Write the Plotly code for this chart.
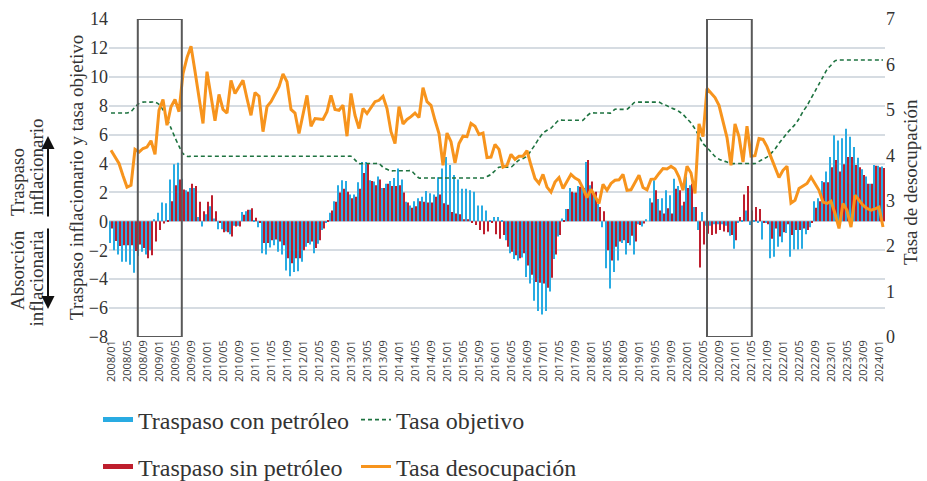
import plotly.graph_objects as go

# ---------------- data (monthly, 2008/01 - 2024/02) ----------------
n_months = 194
month_labels = [f"{2008 + i // 12}/{i % 12 + 1:02d}" for i in range(n_months)]
tick_idx = list(range(0, n_months, 4))
tick_labels = [month_labels[i] for i in tick_idx]

traspaso_con = [
    -1.5, -2.0, -2.3, -2.8, -2.8, -3.0, -3.55, -2.4, -2.1, -2.3, -2.0, 0.15,
    0.6, 1.3, 1.25, 2.9, 3.95, 4.05, 2.95, 2.15, 2.3, 2.3, 0.3, -0.35,
    0.5, 1.05, 0.2, -0.55, -0.55, -0.7, -0.9, -0.3, -0.3, 0.65, 0.7, 0.8,
    0.1, -0.4, -2.2, -2.3, -1.8, -1.65, -2.1, -2.3, -3.4, -3.8, -3.5, -3.45,
    -2.8, -1.75, -1.6, -2.2, -1.55, -0.6, -0.1, 0.6, 1.4, 2.5, 2.85, 2.8,
    1.85, 1.85, 2.7, 4.1, 4.1, 2.85, 2.75, 3.1, 2.3, 2.6, 2.8, 3.0,
    3.65, 2.9, 1.35, 1.1, 1.4, 1.6, 1.7, 2.1, 1.95, 1.85, 3.05, 3.65,
    4.45, 3.9, 3.2, 2.9, 2.25, 2.25, 2.15, 2.05, 1.1, 1.1, 0.75, 0.1,
    0.3, 0.3, 0.1, -1.3, -2.2, -2.6, -2.7, -2.5, -3.85, -4.3, -5.5, -6.2,
    -6.45, -6.2, -4.85, -2.6, -1.05, 0.2, 0.85, 2.3, 2.0, 2.45, 2.3, 4.1,
    2.5, 1.8, 1.2, -0.4, -3.25, -4.65, -3.5, -2.7, -1.5, -2.3, -1.65, -2.3,
    -0.2, -0.35, 0.15, 1.6, 2.85, 1.55, 1.6, 2.15, 1.8, 2.95, 2.45, 1.1,
    3.1, 2.5, 1.0, -0.6, 0.65, -0.3, -0.3, -0.2, -0.2, -0.2, -0.3, -1.0,
    -1.9, -0.1, 0.1, 0.75, -0.25, 0.1, -0.1, -1.25, -0.1, -2.55, -2.45, -1.75,
    -1.45, -0.8, -2.45, -1.95, -1.95, -1.9, -0.9, -0.4, 1.4, 1.6, 2.8, 3.45,
    4.45, 5.95, 5.6, 5.75, 6.4, 5.85, 5.15, 4.4, 3.6, 3.1, 2.6, 3.9,
    3.85, 3.8,
]

traspaso_sin = [
    -0.5, -1.35, -1.7, -1.65, -1.65, -1.65, -2.05, -1.6, -1.85, -2.55, -2.35, -1.4,
    -0.6, -0.15, 0.05, 1.4, 2.5, 2.9, 2.2, 2.05, 2.6, 2.45, 1.35, 0.7,
    1.35, 1.8, 0.7, -0.1, -0.75, -0.75, -1.05, -0.35, -0.35, 0.45, 0.8, 0.9,
    0.25, -0.1, -1.5, -1.5, -1.3, -1.25, -1.4, -1.65, -2.55, -2.9, -2.55, -2.55,
    -2.0, -1.5, -1.4, -1.85, -1.3, -0.5, 0.05, 0.75, 1.35, 2.0, 2.25, 2.05,
    1.6, 1.7, 2.25, 3.35, 4.0, 2.8, 2.5, 2.9, 2.3, 2.6, 2.45, 2.45,
    2.5, 2.0, 1.3, 0.95, 1.05, 1.4, 1.35, 1.3, 1.3, 1.7, 1.85, 1.25,
    1.15, 0.65, 0.55, 0.5, 0.15, 0.15, -0.1, -0.25, -0.6, -0.9, -0.7, -0.1,
    -0.9, -1.2, -0.95, -1.75, -2.1, -2.35, -2.55, -2.2, -3.05, -3.7, -4.2, -4.25,
    -4.3, -4.6, -3.9, -2.3, -0.95, 0.1, 0.85, 2.05, 2.0, 2.4, 2.3, 4.25,
    2.75, 2.05, 1.0, 0.7, -2.0, -2.7, -1.75, -1.4, -1.3, -1.5, -1.0, -1.4,
    -0.25, -0.15, 0.0, 1.3, 2.15, 0.75, 0.55, 0.9, 0.55, 2.25, 2.15, 1.35,
    2.3, 2.6, 1.0, -3.2, -1.6, -0.85, -0.95, -0.85, -0.6, -0.7, -0.75, -0.95,
    -1.3, 0.3, 1.85, 2.45, 0.75, 1.0, 0.85, -0.1, -0.2, -1.2, -0.5, -1.05,
    -0.75, -0.2, -0.95, -0.6, -0.6, -0.5, -0.6, -0.1, 0.95, 1.4, 2.7, 2.7,
    3.75, 4.25, 3.45, 3.95, 4.45, 4.45, 3.9, 3.75, 3.2, 2.6, 2.6, 3.85,
    3.75, 3.7,
]

tasa_objetivo = (
    [7.5, 7.5, 7.5, 7.5, 7.5, 7.6, 7.9, 8.15, 8.25, 8.25, 8.25, 8.25]
    + [8.1, 7.7, 7.1, 6.45, 5.8, 5.2, 4.7, 4.5, 4.5, 4.5, 4.5, 4.5]
    + [4.5] * 36
    + [4.5, 4.25, 4.0, 4.0, 4.0, 4.0, 4.0, 4.0, 3.75, 3.6, 3.5, 3.5]
    + [3.5, 3.5, 3.5, 3.5, 3.25, 3.0, 3.0, 3.0, 3.0, 3.0, 3.0, 3.0]
    + [3.0] * 10 + [3.1, 3.25]
    + [3.5, 3.75, 3.75, 3.75, 3.75, 4.0, 4.24, 4.35, 4.5, 4.9, 5.3, 5.74]
    + [6.1, 6.3, 6.45, 6.75, 7.0, 7.0, 7.0, 7.0, 7.0, 7.0, 7.0, 7.3]
    + [7.5, 7.5, 7.5, 7.5, 7.5, 7.5, 7.75, 7.75, 7.75, 7.75, 8.0, 8.25]
    + [8.25, 8.25, 8.25, 8.25, 8.25, 8.25, 8.1, 8.0, 7.85, 7.75, 7.6, 7.4]
    + [7.1, 6.8, 6.4, 5.9, 5.4, 5.1, 4.8, 4.5, 4.3, 4.2, 4.1, 4.0]
    + [4.0, 4.0, 4.0, 4.0, 4.0, 4.0, 4.15, 4.3, 4.45, 4.7, 5.0, 5.4]
    + [5.75, 6.1, 6.4, 6.7, 7.1, 7.6, 8.0, 8.5, 9.0, 9.5, 10.0, 10.5]
    + [10.8, 11.1] + [11.16] * 10
    + [11.16, 11.16]
)

tasa_desocupacion = [
    4.11, 3.95, 3.82, 3.55, 3.30, 3.34, 4.13, 4.07, 4.15, 4.18, 4.32, 4.02,
    4.99, 5.23, 4.66, 5.07, 5.23, 4.96, 5.80, 6.15, 6.40, 5.85, 5.25, 4.70,
    5.84, 5.30, 4.76, 5.34, 5.01, 4.93, 5.65, 5.36, 5.52, 5.65, 5.25, 4.88,
    5.38, 5.30, 4.52, 5.07, 5.18, 5.35, 5.51, 5.79, 5.62, 5.01, 4.93, 4.48,
    4.90, 5.32, 4.64, 4.81, 4.80, 4.79, 4.96, 5.32, 5.01, 4.99, 5.10, 4.42,
    5.36, 4.88, 4.59, 5.03, 4.92, 5.05, 5.18, 5.21, 5.30, 5.03, 4.52, 4.26,
    5.07, 4.69, 4.79, 4.85, 4.93, 4.83, 5.49, 5.18, 5.10, 4.77, 4.48, 3.78,
    4.49, 4.30, 3.83, 4.26, 4.42, 4.41, 4.70, 4.64, 4.46, 4.49, 3.95, 3.96,
    4.24, 4.13, 3.74, 3.78, 4.02, 3.91, 3.98, 3.98, 4.10, 3.78, 3.49, 3.38,
    3.58, 3.30, 3.19, 3.41, 3.51, 3.27, 3.41, 3.58, 3.50, 3.45, 3.27, 3.07,
    3.25, 3.10, 2.94, 3.36, 3.23, 3.38, 3.45, 3.46, 3.58, 3.23, 3.24, 3.40,
    3.56, 3.29, 3.24, 3.47, 3.48, 3.60, 3.71, 3.70, 3.76, 3.70, 3.52, 3.23,
    3.76, 3.61, 3.16, 4.69, 4.41, 5.47, 5.36, 5.27, 5.10, 4.75, 4.39, 3.78,
    4.69, 4.41, 3.85, 4.64, 3.98, 3.99, 4.37, 4.35, 4.19, 3.96, 3.74, 3.51,
    3.67, 3.76, 2.95, 3.01, 3.27, 3.33, 3.38, 3.52, 3.38, 3.23, 2.97, 2.94,
    2.99, 2.72, 2.39, 2.94, 2.79, 2.42, 3.12, 3.01, 2.90, 2.83, 2.79, 2.82,
    2.86, 2.42,
]

# highlighted periods (month index ranges)
boxes = [(6.7, 17.7), (149.0, 160.2)]

# ---------------- styling ----------------
BLUE = "#29ABE2"
RED = "#BE1E2D"
ORANGE = "#F7941D"
GREEN = "#1E7340"
GRID = "#D6DCE2"
TXT = "#333333"
SERIF = "Liberation Serif, Times New Roman, serif"
SANS = "Open Sans, Liberation Sans, sans-serif"

x = list(range(n_months))

fig = go.Figure()
fig.add_trace(go.Bar(x=x, y=traspaso_con, name="Traspaso con petróleo",
                     marker=dict(color=BLUE, line=dict(width=0)), showlegend=False))
fig.add_trace(go.Bar(x=x, y=traspaso_sin, name="Traspaso sin petróleo",
                     marker=dict(color=RED, line=dict(width=0)), showlegend=False))
fig.add_trace(go.Scatter(x=x, y=tasa_objetivo, name="Tasa objetivo", mode="lines",
                         line=dict(color=GREEN, width=1.6, dash="4px,3px", shape="spline", smoothing=0.8),
                         legend="legend"))
fig.add_trace(go.Scatter(x=x, y=tasa_desocupacion, name="Tasa desocupación", mode="lines",
                         line=dict(color=ORANGE, width=3), yaxis="y2", legend="legend2"))
# legend samples for the bar series
fig.add_trace(go.Scatter(x=[None], y=[None], mode="lines", name="Traspaso con petróleo",
                         line=dict(color=BLUE, width=5), legend="legend", legendrank=1))
fig.add_trace(go.Scatter(x=[None], y=[None], mode="lines", name="Traspaso sin petróleo",
                         line=dict(color=RED, width=5), legend="legend2", legendrank=1))

for x0, x1 in boxes:
    fig.add_shape(type="rect", xref="x", yref="y", x0=x0, x1=x1, y0=-8, y1=14,
                  line=dict(color="#595959", width=2), fillcolor="rgba(0,0,0,0)", layer="above")

# plot domain in pixels: x 109..885, y 19..337
L, R, T, B = 109, 885, 19, 337
W, H = 927, 481
def px(xp):
    return (xp - L) / (R - L)
def py(yp):
    return (B - yp) / (B - T)

side_font = dict(family=SERIF, size=19, color=TXT)
annotations = [
    dict(text="Traspaso inflacionario y tasa objetivo", x=px(76), y=py(178), xref="paper", yref="paper",
         textangle=-90, showarrow=False, font=side_font, xanchor="center", yanchor="middle"),
    dict(text="Tasa de desocupación", x=px(910), y=py(182), xref="paper", yref="paper",
         textangle=-90, showarrow=False, font=side_font, xanchor="center", yanchor="middle"),
    dict(text="Traspaso", x=px(17), y=py(218), xref="paper", yref="paper",
         textangle=-90, showarrow=False, font=side_font, xanchor="center", yanchor="bottom"),
    dict(text="inflacionario", x=px(36), y=py(218), xref="paper", yref="paper",
         textangle=-90, showarrow=False, font=side_font, xanchor="center", yanchor="bottom"),
    dict(text="Absorción", x=px(17), y=py(228), xref="paper", yref="paper",
         textangle=-90, showarrow=False, font=side_font, xanchor="center", yanchor="top"),
    dict(text="inflacionaria", x=px(36), y=py(228), xref="paper", yref="paper",
         textangle=-90, showarrow=False, font=side_font, xanchor="center", yanchor="top"),
    dict(text="", x=px(48), y=py(136), xref="paper", yref="paper", showarrow=True,
         axref="pixel", ayref="pixel", ax=0, ay=82, arrowhead=2, arrowsize=1.3, arrowwidth=2,
         arrowcolor="#111111"),
    dict(text="", x=px(48), y=py(309), xref="paper", yref="paper", showarrow=True,
         axref="pixel", ayref="pixel", ax=0, ay=-82, arrowhead=2, arrowsize=1.3, arrowwidth=2,
         arrowcolor="#111111"),
]

legend_font = dict(family=SERIF, size=24, color=TXT)
fig.update_layout(
    width=W, height=H,
    margin=dict(l=L, r=W - R, t=T, b=H - B, autoexpand=False),
    paper_bgcolor="white", plot_bgcolor="white",
    barmode="group", bargap=0.12, bargroupgap=0.0,
    font=dict(family=SERIF, color=TXT),
    xaxis=dict(range=[-0.5, n_months - 0.5], tickmode="array", tickvals=tick_idx, ticktext=tick_labels,
               tickangle=-90, tickfont=dict(family=SANS, size=11, color="#404040"),
               showgrid=False, zeroline=False, showline=False, ticks="", automargin=False),
    yaxis=dict(range=[-8, 14], dtick=2, tick0=0, showgrid=True, gridcolor=GRID, gridwidth=1.6,
               zeroline=False, showline=False, ticks="", automargin=False,
               tickfont=dict(family=SERIF, size=18, color=TXT)),
    yaxis2=dict(range=[0, 7], dtick=1, overlaying="y", side="right", showgrid=False, zeroline=False,
                showline=False, ticks="", automargin=False,
                tickfont=dict(family=SERIF, size=18, color=TXT)),
    legend=dict(orientation="h", x=px(98), y=py(420), xanchor="left", yanchor="middle",
                entrywidth=213, entrywidthmode="pixels", font=legend_font,
                bgcolor="rgba(0,0,0,0)", traceorder="normal"),
    legend2=dict(orientation="h", x=px(98), y=py(467), xanchor="left", yanchor="middle",
                 entrywidth=213, entrywidthmode="pixels", font=legend_font,
                 bgcolor="rgba(0,0,0,0)", traceorder="normal"),
    annotations=annotations,
)

fig.write_html("out.html",
               config={"displayModeBar": False},
               post_script="document.body.style.margin='0px';document.body.style.overflow='hidden';")
